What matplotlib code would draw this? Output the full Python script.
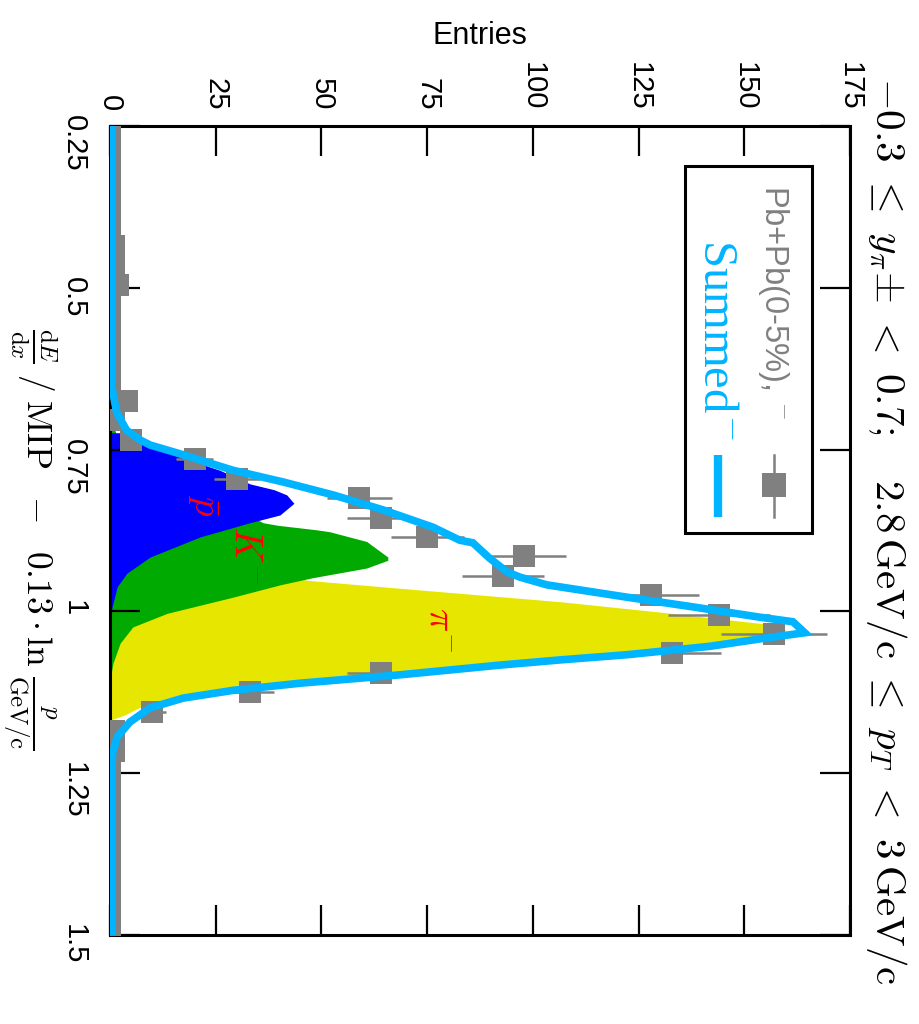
import numpy as np
import matplotlib
matplotlib.use("Agg")
import matplotlib.pyplot as plt
from matplotlib.patches import Rectangle

plt.rcParams['font.family'] = ['Liberation Sans', 'DejaVu Sans']
plt.rcParams['mathtext.fontset'] = 'cm'

# measured dE/dx spectrum (bin centres) and counts
dedx = np.round(np.arange(0.255, 1.5, 0.03), 3)
counts = np.array([0, 0, 0, 0, 0, 0, 1, 1, 2, 0,
                   0, 0, 0, 0, 4, 1, 5, 20, 30, 59,
                   64, 75, 98, 93, 128, 144, 157, 133, 64, 33,
                   10, 1, 1, 0, 0, 0, 0, 0, 0, 0,
                   0, 0])

# summed fit
sum_x = [0.25, 0.40, 0.55, 0.653, 0.693, 0.720, 0.735, 0.743, 0.758, 0.782,
         0.800, 0.820, 0.843, 0.870, 0.890, 0.894, 0.918, 0.939, 0.947, 0.959,
         0.978, 0.993, 1.009, 1.016, 1.033, 1.041, 1.054, 1.067, 1.075, 1.083,
         1.098, 1.111, 1.122, 1.134, 1.149, 1.171, 1.194, 1.219, 1.25, 1.5]
sum_y = [0.4, 0.4, 0.4, 0.4, 1.6, 3.9, 7.1, 9.5, 17.3, 29.1,
         40.9, 52.7, 64.5, 76.4, 82.7, 85.8, 89.8, 93.9, 96.9, 103.3,
         122.2, 137.8, 153.7, 161.5, 164.3, 155.3, 141.8, 122.2, 106.4, 92.2,
         68.6, 44.9, 29.1, 17.3, 9.5, 4.7, 1.7, 0.6, 0.4, 0.4]

# pbar component
pbar_x = [0.724, 0.724, 0.735, 0.758, 0.782, 0.803, 0.812, 0.820, 0.833, 0.851,
          0.863, 0.885, 0.916, 0.941, 0.962, 0.993, 1.013]
pbar_y = [0, 2.5, 6, 15, 26, 33.1, 38.8, 41.8, 43.5, 40.2,
          33.1, 21.3, 9.5, 4.0, 1.7, 0.5, 0]

# K- component
kaon_x = [0.70, 0.735, 0.76, 0.79, 0.82, 0.845, 0.863, 0.867, 0.874, 0.877,
          0.892, 0.916, 0.921, 0.933, 0.948, 0.959, 0.978, 1.003, 1.024, 1.049,
          1.080, 1.106]
kaon_y = [0, 2, 6, 14, 24, 31, 36.2, 39.7, 48.9, 52.0,
          60.7, 65.7, 65.7, 60.7, 47.9, 40.2, 29.1, 13.5, 5.4, 2.4,
          0.7, 0]

# pi- component
pion_x = [0.80, 0.85, 0.88, 0.91, 0.935, 0.952, 0.966, 0.985, 1.001, 1.019,
          1.029, 1.044, 1.057, 1.067, 1.083, 1.098, 1.111, 1.122, 1.134, 1.148,
          1.160, 1.168]
pion_y = [0, 2, 8, 22, 36, 46.6, 71.7, 106.4, 130, 154.4,
          160, 154, 136, 119, 90, 66, 43, 27.5, 16, 7.1,
          3.5, 0]

entry_ticks = [0, 25, 50, 75, 100, 125, 150, 175]
dedx_ticks = [0.25, 0.5, 0.75, 1, 1.25, 1.5]
dedx_labels = ['0.25', '0.5', '0.75', '1', '1.25', '1.5']

gray = '#808080'
cyan = '#00b4ff'

fig = plt.figure(figsize=(9.19, 10.24), dpi=100)
ax = fig.add_axes([0.1197, 0.0869, 0.8052, 0.7901])

ax.fill_betweenx(pion_x, 0, pion_y, color='#e6e600', lw=0)
ax.fill_betweenx(kaon_x, 0, kaon_y, color='#00aa00', lw=0)
ax.fill_betweenx(pbar_x, 0, pbar_y, color='#0000ff', lw=0)

err = np.sqrt(counts)
ax.errorbar(counts, dedx, xerr=err, fmt='s', color=gray, ms=16.5, mew=0,
            elinewidth=1.8, capsize=0, zorder=3)
ax.plot(sum_y, sum_x, color=cyan, lw=5.5, zorder=4, solid_joinstyle='miter')

lab = dict(color='red', fontsize=28, rotation=-90, ha='center', va='center')
ax.text(22, 0.836, r'$\bar{p}$', **lab)
ax.text(32, 0.913, r'$K^{-}$', **lab)
ax.text(78, 1.029, r'$\pi^{-}$', **lab)

ax.set_xlim(0, 175)
ax.set_ylim(1.5, 0.25)
ax.set_xticks(entry_ticks)
ax.set_yticks(dedx_ticks)
ax.set_yticklabels(dedx_labels)
ax.xaxis.tick_top()
ax.tick_params(axis='both', direction='in', length=21.6, width=1.6,
               labelsize=21, top=True, bottom=True, left=True, right=True)
ax.tick_params(axis='x', labeltop=True, labelbottom=False, labelrotation=-90, pad=11)
ax.tick_params(axis='y', labelleft=True, labelright=False, labelrotation=-90, pad=16)
for s in ax.spines.values():
    s.set_linewidth(2.2)

ax.set_xlabel('Entries', fontsize=22)
ax.xaxis.set_label_position('top')
ax.xaxis.set_label_coords(0.5, 1.101)
ax.set_ylabel(r'$\frac{\mathrm{d}E}{\mathrm{d}x}\;/\;\mathrm{MIP}\ \ -\ \ 0.13\cdot\mathrm{ln}\ '
              r'\frac{p}{\mathrm{GeV}/\mathrm{c}}$', fontsize=25.5, rotation=-90,
              ha='center', va='center')
ax.yaxis.set_label_coords(-0.107, 0.49)

ax.text(1.05, 0.5, r'$-0.3\ \leq\ y_{\pi}{\pm}\ <\ 0.7;\quad 2.8\,\mathrm{GeV}/\mathrm{c}\ \leq\ p_{T}\ <\ 3\,\mathrm{GeV}/\mathrm{c}$',
        transform=ax.transAxes, rotation=-90, ha='center', va='center', fontsize=29.5)

# legend box, drawn by hand so the entries follow the rotated layout
ax.add_patch(Rectangle((0.777, 0.497), 0.171, 0.453, transform=ax.transAxes,
                       fill=True, fc='white', ec='black', lw=2.2, zorder=5))
ax.text(0.896, 0.637, 'Pb+Pb(0-5%), $^{-}$', transform=ax.transAxes, rotation=-90,
        ha='center', va='bottom', fontsize=23.5, color=gray, zorder=6)
ax.text(0.819, 0.612, r'Summed$^{-}$', transform=ax.transAxes, rotation=-90,
        ha='center', va='bottom', fontsize=35, color=cyan, family='Liberation Serif', zorder=6)
ax.plot([0.897, 0.897], [0.517, 0.593], transform=ax.transAxes, color=gray, lw=1.8, zorder=6)
ax.plot([0.897], [0.556], 's', transform=ax.transAxes, color=gray, ms=17, mew=0, zorder=7)
ax.plot([0.822, 0.822], [0.517, 0.593], transform=ax.transAxes, color=cyan, lw=6,
        solid_capstyle='butt', zorder=6)

fig.savefig('out.png', dpi=100)
